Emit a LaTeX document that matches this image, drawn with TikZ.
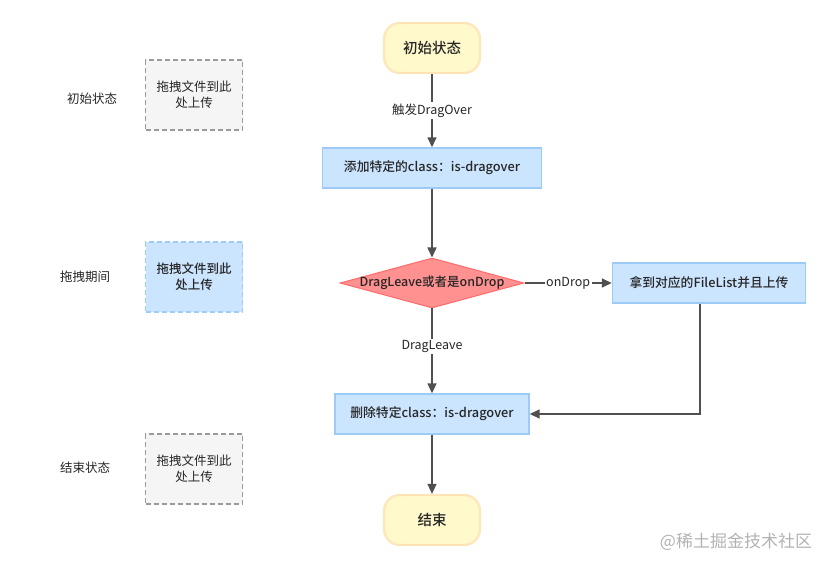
\documentclass[tikz,border=0pt]{standalone}
\usepackage{fontspec}
\setmainfont{Noto Sans CJK SC}[BoldFont={Noto Sans CJK SC Medium}]
\usetikzlibrary{arrows.meta,shapes.geometric}
\definecolor{lineGray}{HTML}{505050}
\definecolor{startFill}{HTML}{FFF9CC}
\definecolor{startLine}{HTML}{FFE5B8}
\definecolor{procFill}{HTML}{CCE5FF}
\definecolor{procLine}{HTML}{9CCBF7}
\definecolor{decFill}{HTML}{FF9191}
\definecolor{decLine}{HTML}{FF6B6B}
\definecolor{grayFill}{HTML}{F5F5F5}
\definecolor{grayLine}{HTML}{9A9A9A}
\begin{document}
\begin{tikzpicture}[x=1pt, y=-1pt, every node/.style={font=\fontsize{12.5}{16}\selectfont, text=black!85},
	terminal/.style={draw=startLine, fill=startFill, line width=2.2pt, rounded corners=16pt, minimum width=96pt, minimum height=50pt, font=\fontsize{14.5}{16}\selectfont\bfseries},
	process/.style={draw=procLine, fill=procFill, line width=1.4pt, minimum height=40pt, font=\fontsize{12.8}{16}\selectfont\bfseries},
	decision/.style={diamond, aspect=3.7, draw=decLine, fill=decFill, line width=1pt, inner sep=0pt, minimum width=184pt, minimum height=50pt, font=\fontsize{12.5}{16}\selectfont\bfseries},
	dropzone/.style={dashed, dash pattern=on 5pt off 3pt, line width=1.4pt, minimum width=97pt, minimum height=70pt, align=center},
	flow/.style={draw=lineGray, line width=1.5pt, -{Triangle[length=10pt, width=9pt]}},
	edgelabel/.style={fill=white, inner sep=1.5pt}]
	\useasboundingbox (0,0) rectangle (831,569);
	% flow chart
	\node[terminal] (Start) at (432, 48) {初始状态};
	\node[process, minimum width=219pt] (AddClass) at (432, 168) {添加特定的class：is-dragover};
	\node[decision] (Check) at (432, 283) {\makebox[0pt]{DragLeave或者是onDrop}};
	\node[process, minimum width=193pt] (Upload) at (709, 283) {拿到对应的FileList并且上传};
	\node[process, minimum width=194pt] (RemoveClass) at (432, 414) {删除特定class：is-dragover};
	\node[terminal] (End) at (432, 520) {结束};
	\draw[flow] (Start) -- node[edgelabel] {触发DragOver} (AddClass);
	\draw[flow] (AddClass) -- (Check);
	\draw[flow] (Check) -- node[edgelabel] {onDrop} (Upload);
	\draw[flow] (Check) -- node[edgelabel, pos=0.45] {DragLeave} (RemoveClass);
	\draw[flow] (Upload.south -| 700,0) |- (RemoveClass);
	\draw[flow] (RemoveClass) -- (End);
	% left column
	\node (StateInit) at (92, 99) {初始状态};
	\node (StateDrag) at (85, 277) {拖拽期间};
	\node (StateEnd) at (85, 468) {结束状态};
	\node[dropzone, draw=grayLine, fill=grayFill] (ZoneInit) at (194, 95) {拖拽文件到此\\处上传};
	\node[dropzone, draw=procLine, fill=procFill, font=\fontsize{12.5}{16}\selectfont\bfseries] (ZoneDrag) at (194, 277) {拖拽文件到此\\处上传};
	\node[dropzone, draw=grayLine, fill=grayFill] (ZoneEnd) at (194, 469) {拖拽文件到此\\处上传};
	\node[text=black!30, font=\fontsize{17}{20}\selectfont] (Mark) at (736, 542) {@稀土掘金技术社区};
\end{tikzpicture}
\end{document}
